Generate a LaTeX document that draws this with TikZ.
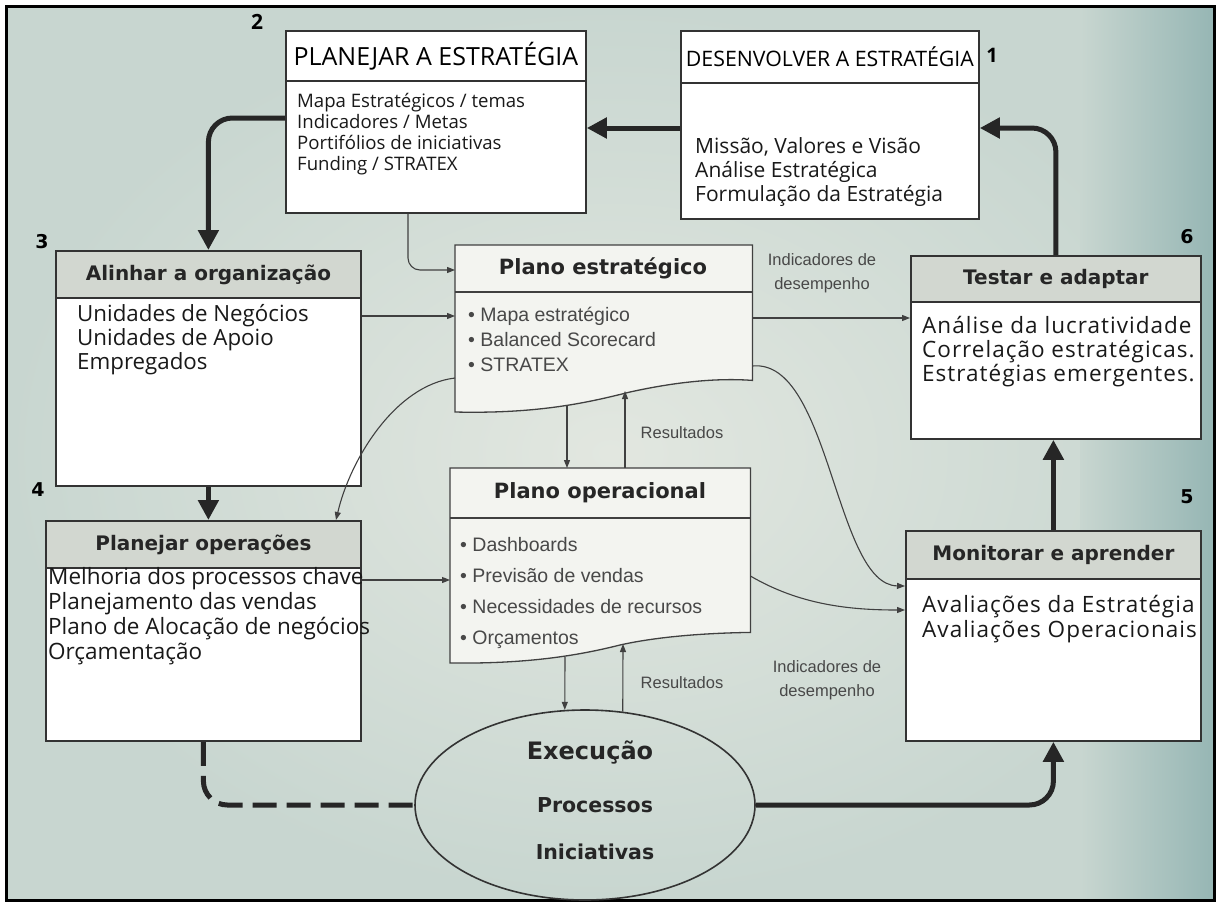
\documentclass[tikz,border=0pt]{standalone}
\usepackage{fontspec}
\newfontfamily\pastefont{Open Sans}
\newfontfamily\pastewide{Open Sans}[LetterSpace=4.5]
\newfontfamily\scanfont{Liberation Sans}
\newfontfamily\scanbold{DejaVu Sans}
\usetikzlibrary{arrows.meta,calc,shapes.geometric}

\definecolor{paper}{RGB}{226,231,224}
\definecolor{paperedge}{RGB}{200,214,208}
\definecolor{paperdark}{RGB}{150,182,180}
\definecolor{hdrgrey}{RGB}{210,215,208}
\definecolor{sheet}{RGB}{243,244,240}
\definecolor{ink}{RGB}{38,38,38}
\definecolor{soft}{RGB}{72,72,72}

\newcommand\fsz[2]{\fontsize{#1}{#2}\selectfont}

\begin{document}
\begin{tikzpicture}[x=1pt,y=-1pt,
  box/.style={draw=black!80, line width=1.8pt, anchor=north west, inner sep=0pt, fill=white},
  hdr/.style={draw=black!80, line width=1.8pt, anchor=north west, inner sep=0pt},
  body/.style={anchor=north west, align=left, inner sep=0pt, text=black!90},
  head/.style={inner sep=0pt, text=ink, font=\scanbold\bfseries\fsz{20}{22}},
  bullets/.style={anchor=north west, align=left, inner sep=0pt, text=soft, font=\scanfont\fsz{19.5}{25}},
  num/.style={inner sep=0pt, text=black, font=\scanbold\bfseries\fsz{19}{22}},
  bigarrow/.style={line width=5pt, draw=black!85, rounded corners=24pt, -{Triangle[length=20pt,width=20pt]}},
  thinarrow/.style={line width=1.1pt, draw=black!75, -{Triangle[length=8pt,width=6pt]}},
  lbl/.style={inner sep=0pt, text=soft, font=\scanfont\fsz{16.5}{24}, align=center},
  doc/.style={draw=black!75, line width=1.3pt, fill=sheet}
]

% page and paper
\useasboundingbox (0,0) rectangle (1220,906);
\fill[white] (0,0) rectangle (1220,906);
\shade[inner color=paper, outer color=paperedge] (6,6) rectangle (1214,900);
\shade[left color=paperedge, right color=paperdark] (1080,6) rectangle (1214,900);
\draw[line width=3pt] (6,6) rectangle (1214,900);

% 1 - develop the strategy
\node[box, minimum width=298pt, minimum height=188pt] (b1) at (680,30) {};
\node[hdr, fill=white, minimum width=298pt, minimum height=52pt] (b1h) at (b1.north west)
  {\pastefont\fsz{21.3}{23}DESENVOLVER A ESTRATÉGIA};
\node[body, font=\pastefont\fsz{21}{24}] (b1t) at (695,137)
  {Missão, Valores e Visão\\Análise Estratégica\\Formulação da Estratégia};
\node[num, font=\pastefont\bfseries\fsz{20}{22}] (n1) at (992,55) {1};

% 2 - plan the strategy
\node[box, minimum width=300pt, minimum height=182pt] (b2) at (285,30) {};
\node[hdr, fill=white, minimum width=300pt, minimum height=50pt] (b2h) at (b2.north west)
  {\pastefont\fsz{25}{27}PLANEJAR A ESTRATÉGIA};
\node[body, font=\pastefont\fsz{18.6}{21}] (b2t) at (297,93)
  {Mapa Estratégicos / temas\\Indicadores / Metas\\Portifólios de iniciativas\\Funding / STRATEX};
\node[num, font=\pastefont\bfseries\fsz{21}{22}] (n2) at (257,22) {2};

% 3 - align the organisation
\node[box, minimum width=305pt, minimum height=235pt] (b3) at (55,250) {};
\node[hdr, fill=hdrgrey, minimum width=305pt, minimum height=47pt] (b3h) at (b3.north west) {};
\node[head] (b3l) at (b3h.center) {Alinhar a organização};
\node[body, font=\pastefont\fsz{22.3}{24}] (b3t) at (77,304)
  {Unidades de Negócios\\Unidades de Apoio\\Empregados};
\node[num] (n3) at (42,242) {3};

% 4 - plan operations
\node[box, minimum width=315pt, minimum height=220pt] (b4) at (45,520) {};
\node[hdr, fill=hdrgrey, minimum width=315pt, minimum height=47pt] (b4h) at (b4.north west) {};
\node[head] (b4l) at (b4h.center) {Planejar operações};
\node[body, font=\pastefont\fsz{22.5}{25}] (b4t) at (48,567)
  {Melhoria dos processos chave\\Planejamento das vendas\\Plano de Alocação de negócios\\Orçamentação};
\node[num] (n4) at (38,490) {4};

% 6 - test and adapt
\node[box, minimum width=290pt, minimum height=183pt] (b6) at (910,255) {};
\node[hdr, fill=hdrgrey, minimum width=290pt, minimum height=46pt] (b6h) at (b6.north west) {};
\node[head] (b6l) at (b6h.center) {Testar e adaptar};
\node[body, font=\pastewide\fsz{22.5}{24}] (b6t) at (922,316)
  {Análise da lucratividade\\Correlação estratégicas.\\Estratégias emergentes.};
\node[num] (n6) at (1187,237) {6};

% 5 - monitor and learn
\node[box, minimum width=295pt, minimum height=210pt] (b5) at (905,530) {};
\node[hdr, fill=hdrgrey, minimum width=295pt, minimum height=48pt] (b5h) at (b5.north west) {};
\node[head] (b5l) at (b5h.center) {Monitorar e aprender};
\node[body, font=\pastewide\fsz{22.5}{25}] (b5t) at (922,595)
  {Avaliações da Estratégia\\Avaliações Operacionais};
\node[num] (n5) at (1187,497) {5};

% strategic plan (document shape)
\node[anchor=north west, inner sep=0pt, minimum width=297pt, minimum height=135pt] (pe) at (455,245) {};
\draw[doc] (pe.north west) -- (pe.north east) -- (pe.south east)
  .. controls (720,378) and (680,381) .. (630,392)
  .. controls (590,402) and (540,414) .. (455,412) -- cycle;
\draw[line width=1.3pt, draw=black!75] (pe.west |- 0,292) -- (pe.east |- 0,292);
\node[head, font=\scanbold\bfseries\fsz{21}{22}] (peh) at (603,268) {Plano estratégico};
\node[bullets] (pet) at (468,307)
  {\textbullet\ Mapa estratégico\\\textbullet\ Balanced Scorecard\\\textbullet\ STRATEX};
\coordinate (peb1) at (567,406);
\coordinate (peb2) at (625,391);

% operational plan (document shape)
\node[anchor=north west, inner sep=0pt, minimum width=300pt, minimum height=164pt] (po) at (450,468) {};
\draw[doc] (po.north west) -- (po.north east) -- (po.south east)
  .. controls (710,633) and (660,636) .. (620,645)
  .. controls (580,655) and (530,664) .. (450,663) -- cycle;
\draw[line width=1.3pt, draw=black!75] (po.west |- 0,518) -- (po.east |- 0,518);
\node[head, font=\scanbold\bfseries\fsz{21}{22}] (poh) at (600,493) {Plano operacional};
\node[bullets, font=\scanfont\fsz{19.5}{31}] (pot) at (460,537)
  {\textbullet\ Dashboards\\\textbullet\ Previsão de vendas\\\textbullet\ Necessidades de recursos\\\textbullet\ Orçamentos};
\coordinate (pob1) at (565,657);
\coordinate (pob2) at (623,644);

% execution
\node[ellipse, draw=black!80, line width=1.6pt, inner sep=0pt,
      minimum width=340pt, minimum height=190pt] (ex) at (585,805) {};
\node[head, font=\scanbold\bfseries\fsz{24}{26}] (ext) at (590,752) {Execução};
\node[head, font=\scanbold\bfseries\fsz{20.5}{22}] (exp) at (595,805) {Processos};
\node[head, font=\scanbold\bfseries\fsz{20.5}{22}] (exi) at (595,852) {Iniciativas};

% labels
\node[lbl] (r1) at (682,433) {Resultados};
\node[lbl] (r2) at (682,683) {Resultados};
\node[lbl] (i1) at (822,273) {Indicadores de\\desempenho};
\node[lbl] (i2) at (827,680) {Indicadores de\\desempenho};

% main cycle
\draw[bigarrow] (b1.west |- 0,128) -- (b2.east |- 0,128);
\draw[bigarrow] (b2.west |- 0,118) -| (b3.north);
\draw[bigarrow] (b3.south) -- (b3.south |- b4.north);
\draw[line width=5pt, draw=black!85, rounded corners=24pt, dash pattern=on 24pt off 10pt]
  (b4.south) |- (ex.west);
\draw[bigarrow] (ex.east) -| (b5.south);
\draw[bigarrow] (b5.north) -- (b5.north |- b6.south);
\draw[bigarrow] (b6.north) |- (b1.east |- 0,128);

% information flows
\draw[thinarrow, rounded corners=12pt] (b2.south -| 408,0) |- (pe.west |- 0,270);
\draw[thinarrow] (b3.east |- 0,316) -- (pe.west |- 0,316);
\draw[thinarrow] (pe.west |- 0,378) .. controls (395,385) and (350,460) .. (b4.north -| 336,0);
\draw[thinarrow] (b4.east |- 0,580) -- (po.west |- 0,580);
\draw[thinarrow] (pe.east |- 0,318) -- (b6.west |- 0,318);
\draw[thinarrow] (pe.east |- 0,366) .. controls (830,358) and (835,585) .. (b5.west |- 0,586);
\draw[thinarrow] (po.east |- 0,576) .. controls (800,605) and (850,610) .. (b5.west |- 0,610);
\draw[thinarrow] (peb1) -- (po.north -| peb1);
\draw[thinarrow] (po.north -| peb2) -- (peb2);
\draw[thinarrow] (pob1) -- (ex.102);
\draw[thinarrow] (ex.68) -- (pob2);

\end{tikzpicture}
\end{document}
